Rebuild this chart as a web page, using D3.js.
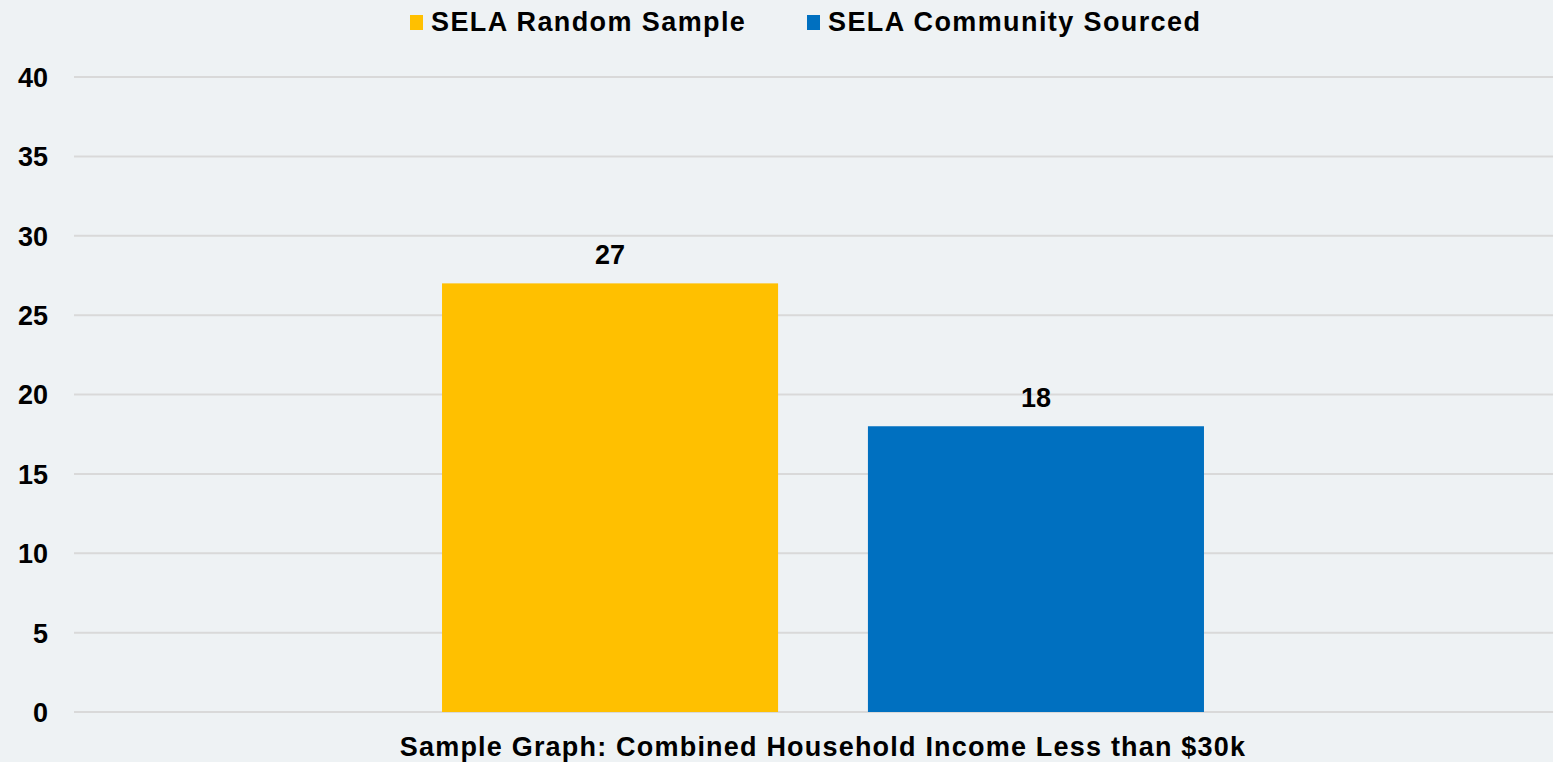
<!DOCTYPE html>
<html><head><meta charset="utf-8">
<script src="https://cdn.jsdelivr.net/npm/d3@7"></script>
<style>
html,body{margin:0;padding:0;background:#eef2f4;}
svg{display:block;font-family:"Liberation Sans",Arial,sans-serif;font-weight:bold;}
</style></head><body>
<svg id="c" width="1553" height="762"></svg>
<script>
const categories = ["Sample Graph: Combined Household Income Less than $30k"];
const seriesNames = ["SELA Random Sample", "SELA Community Sourced"];
const seriesValues = [27, 18];
const seriesColors = ["#ffc000", "#0070c0"];
const yTicks = [0, 5, 10, 15, 20, 25, 30, 35, 40];

(function(){
const svg = d3.select("#c");
const W = 1553, H = 762;
svg.append("rect").attr("width", W).attr("height", H).attr("fill", "#eef2f4");

const pLeft = 74, pRight = 1572, pTop = 77, pBottom = 712;
const y = d3.scaleLinear().domain([0, 40]).range([pBottom, pTop]);
const x0 = d3.scaleBand().domain(categories).range([pLeft, pRight]).paddingInner(0).paddingOuter(0.483);
const x1 = d3.scaleBand().domain(seriesNames).range([0, x0.bandwidth()]).paddingInner(0.211).paddingOuter(0);

// gridlines
svg.append("g").selectAll("line").data(yTicks).join("line")
  .attr("x1", pLeft).attr("x2", W)
  .attr("y1", d => y(d)).attr("y2", d => y(d))
  .attr("stroke", "#d9d9d9").attr("stroke-width", 2);

// y axis labels
const yAxis = d3.axisLeft(y).tickValues(yTicks).tickSize(0).tickPadding(0);
const ga = svg.append("g").attr("transform", `translate(48,0)`).call(yAxis);
ga.select(".domain").remove();
ga.selectAll("text").attr("font-size", 27).attr("font-weight", "bold").attr("fill", "#000")
  .attr("font-family", "'Liberation Sans', Arial, sans-serif").attr("dy", "0.35em");

// bars
const g = svg.append("g");
categories.forEach(cat => {
  seriesNames.forEach((s, i) => {
    const bx = x0(cat) + x1(s);
    g.append("rect").attr("x", bx).attr("y", y(seriesValues[i]))
      .attr("width", x1.bandwidth()).attr("height", y(0) - y(seriesValues[i]))
      .attr("fill", seriesColors[i]);
    g.append("text").attr("x", bx + x1.bandwidth() / 2).attr("y", y(seriesValues[i]) - 19)
      .attr("text-anchor", "middle").attr("font-size", 27).attr("fill", "#000")
      .text(seriesValues[i]);
  });
});

// x axis label
const xAxis = d3.axisBottom(x0).tickSize(0).tickPadding(0);
const gx = svg.append("g").attr("transform", `translate(0,${pBottom})`).call(xAxis);
gx.select(".domain").remove();
gx.selectAll("text").attr("font-size", 27).attr("font-weight", "bold").attr("fill", "#000")
  .attr("font-family", "'Liberation Sans', Arial, sans-serif").attr("dy", 0).attr("y", 44)
  .attr("letter-spacing", 1.2);

// legend
const legendX = [410, 807];
const lg = svg.append("g");
seriesNames.forEach((s, i) => {
  lg.append("rect").attr("x", legendX[i]).attr("y", 15).attr("width", 13).attr("height", 15).attr("fill", seriesColors[i]);
  lg.append("text").attr("x", legendX[i] + 21).attr("y", 31).attr("font-size", 27)
    .attr("letter-spacing", 1.4).attr("fill", "#000").text(s);
});
})();
</script>
</body></html>
